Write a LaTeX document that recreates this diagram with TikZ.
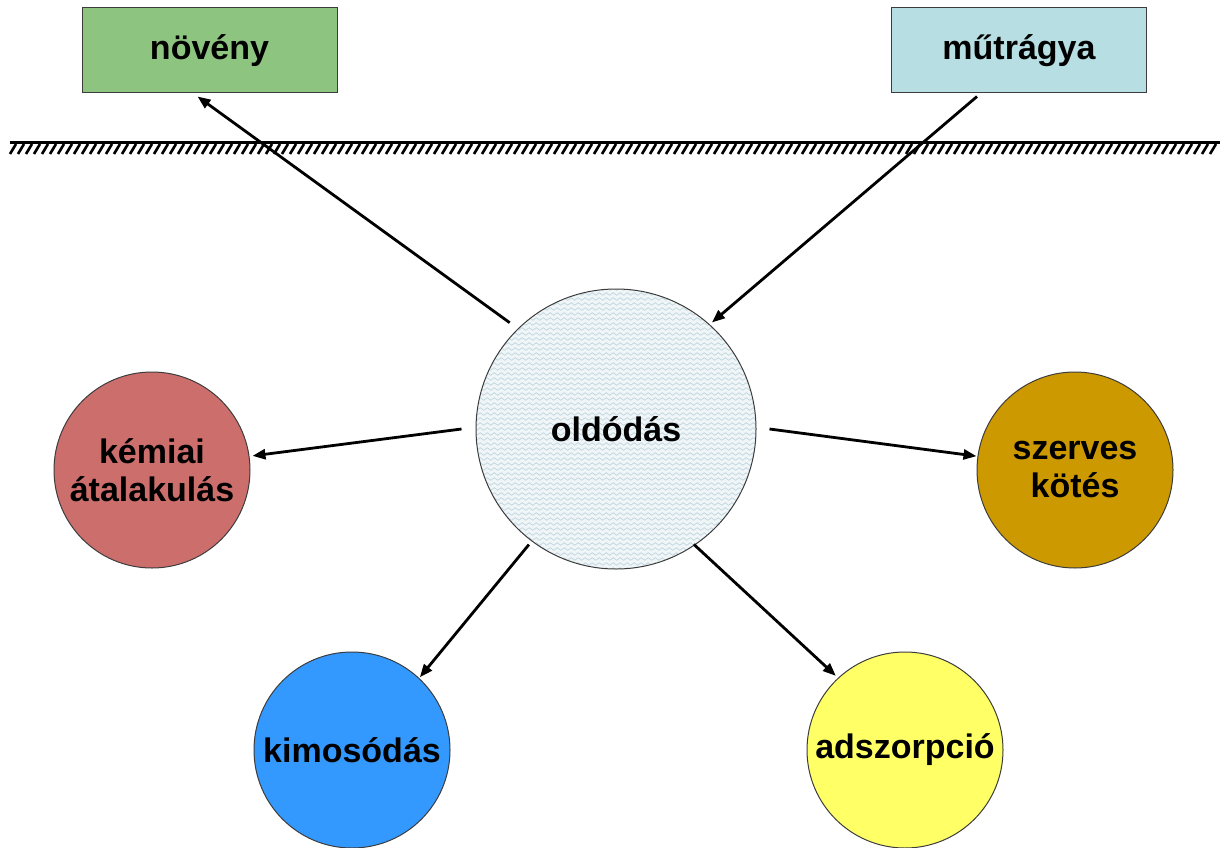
\documentclass[tikz,border=0pt]{standalone}
\usepackage{fontspec}
\setmainfont{Liberation Sans}
\usetikzlibrary{arrows.meta,calc,decorations.pathmorphing}
\definecolor{cnoveny}{RGB}{141,196,127}
\definecolor{cmutragya}{RGB}{183,222,226}
\definecolor{ckemiai}{RGB}{204,110,108}
\definecolor{cszerves}{RGB}{204,153,0}
\definecolor{ckimos}{RGB}{51,153,255}
\definecolor{cadsz}{RGB}{255,255,102}
\definecolor{cwave}{RGB}{190,212,222}
\definecolor{cbase}{RGB}{240,246,248}
\definecolor{cedge}{RGB}{60,60,60}
\tikzset{
  lbl/.style={font=\fontsize{34}{38}\selectfont\bfseries, text=black, align=center},
  boxnode/.style={lbl, draw=cedge, line width=1pt, minimum width=255pt, minimum height=85pt, inner sep=0pt},
  bigcirc/.style={lbl, circle, draw=cedge, line width=1pt, minimum size=196pt, inner sep=0pt},
  arr/.style={line width=2.8pt, -{Triangle[length=13pt,width=10pt]}},
  wave/.style={cwave, line width=0.7pt, decorate, decoration={snake, segment length=7pt, amplitude=1.3pt}},
  hatch/.style={line width=2.6pt, black}
}
\begin{document}
\begin{tikzpicture}[x=1pt,y=-1pt]
\useasboundingbox (0,0) rectangle (1220,848);
% ground line
\draw[line width=3pt] (10,142.5) -- (1220,142.5);
\foreach \x in {10,18,...,1214} \draw[hatch] (\x,154) -- (\x+6,144);
% boxes
\node[boxnode, fill=cnoveny] (noveny) at (209.5,50.5) {növény};
\node[boxnode, fill=cmutragya] (mutragya) at (1019,50.5) {műtrágya};
% centre circle
\node[lbl, circle, draw=cedge, line width=1pt, minimum size=280pt, inner sep=0pt, fill=cbase,
  path picture={\foreach \i in {0,5,...,290} \draw[wave] ($(path picture bounding box.north west)+(-5,\i)$) -- ++(300,0);}]
  (old) at (616,429) {oldódás};
% outer circles
\node[bigcirc, fill=ckemiai] (kem) at (152,470) {kémiai\\átalakulás};
\node[bigcirc, fill=cszerves] (szer) at (1075,470) {szerves\\kötés};
\node[bigcirc, fill=ckimos] (kim) at (352,750) {kimosódás};
\node[bigcirc, fill=cadsz] (adsz) at (905,750) {adszorpció};
% arrows
\draw[arr] ($(old.center)!1.07!(old.135)$) -- ([xshift=-12pt,yshift=-3pt]noveny.south);
\draw[arr] ([xshift=-42pt,yshift=-3pt]mutragya.south) -- ($(old.center)!1.02!(old.48)$);
\draw[arr] ([xshift=-14pt]old.west) -- ($(kem.center)!1.03!(kem.8)$);
\draw[arr] ([xshift=13pt]old.east) -- ($(szer.center)!1.01!(szer.172)$);
\draw[arr] ($(old.center)!1.03!(old.-127)$) -- ($(kim.center)!1.01!(kim.47)$);
\draw[arr] ($(old.center)!0.99!(old.-56)$) -- ($(adsz.center)!1.03!(adsz.133)$);
\end{tikzpicture}
\end{document}
